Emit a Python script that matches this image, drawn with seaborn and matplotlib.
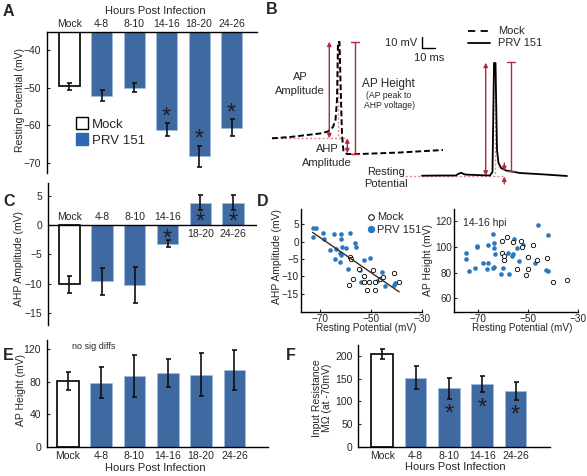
import numpy as np
import pandas as pd
import seaborn as sns
import matplotlib.pyplot as plt
from matplotlib.transforms import offset_copy

# ---- data ----
hpi = ["Mock", "4-8", "8-10", "14-16", "18-20", "24-26"]
rest_mean = [-49.7, -52.2, -50.0, -61.2, -68.3, -60.7]
rest_sem = [1.0, 1.5, 1.1, 1.8, 2.8, 2.3]
rest_sig = [False, False, False, True, True, True]

ahp_mean = [-10.1, -9.6, -10.2, -3.2, 3.8, 3.8]
ahp_sem = [1.45, 2.3, 3.1, 0.6, 1.3, 1.3]
ahp_sig = [False, False, False, True, True, True]

aph_mean = [80.5, 78.5, 86.7, 90.8, 88.4, 94.0]
aph_sem = [11.5, 19.0, 26.0, 17.0, 26.6, 25.0]

rin_hpi = ["Mock", "4-8", "8-10", "14-16", "24-26"]
rin_mean = [204, 152, 128.6, 137.4, 123.3]
rin_sem = [11, 25, 23, 18, 20]
rin_sig = [False, False, True, True, True]

# panel D, left: resting potential vs AHP amplitude
dl_mock_x = [-58.2, -58.1, -54.9, -57.0, -58.9, -53.0, -53.0, -49.4, -51.0, -48.6,
             -51.6, -48.6, -46.5, -45.3, -41.1, -38.9]
dl_mock_y = [-4.3, -5.1, -7.9, -10.8, -12.4, -9.8, -11.6, -8.2, -11.7, -11.6,
             -14.0, -14.0, -10.9, -10.1, -9.0, -11.6]
dl_prv_x = [-73.1, -71.6, -72.9, -69.2, -68.6, -64.7, -61.8, -61.7, -58.5, -66.1,
            -64.0, -61.4, -59.9, -62.3, -61.9, -64.1, -62.3, -56.4, -56.1, -53.0,
            -50.5, -59.2, -54.2, -53.9, -47.7, -45.8, -44.4, -41.1, -40.5]
dl_prv_y = [4.0, 4.0, 1.3, 2.5, 0.8, 2.2, 2.1, 0.7, 2.5, -2.5,
            -2.0, -1.6, -1.7, -3.2, -3.9, -5.0, -6.0, -0.3, -1.6, -5.4,
            -4.6, -8.0, -8.3, -11.7, -11.3, -8.8, -12.9, -12.5, -12.0]

# panel D, right: resting potential vs AP height (14-16 hpi)
dr_mock_x = [-60.7, -58.4, -56.0, -53.1, -52.7, -48.0, -60.7, -59.8, -59.6, -54.6,
             -50.2, -50.9, -50.0, -46.4, -42.7, -40.3, -34.7]
dr_mock_y = [104.7, 107.8, 103.7, 104.7, 99.5, 101.1, 94.8, 92.8, 89.7, 83.1,
             83.1, 78.2, 92.0, 89.7, 91.2, 72.6, 73.9]
dr_prv_x = [-75.1, -75.1, -73.6, -71.3, -70.7, -70.4, -68.3, -66.4, -66.0, -66.0,
            -64.3, -63.6, -64.3, -63.6, -63.6, -63.3, -61.1, -60.3, -58.0, -57.6,
            -56.6, -56.2, -55.7, -54.6, -53.9, -52.2, -47.5, -46.0, -42.3, -42.9, -42.3]
dr_prv_y = [95.4, 90.5, 81.4, 83.9, 100.8, 99.5, 87.6, 82.7, 87.1, 101.6,
            83.9, 84.4, 109.8, 103.1, 99.2, 94.3, 78.6, 83.7, 95.4, 79.0,
            92.8, 94.3, 106.0, 99.2, 89.1, 101.2, 87.6, 116.8, 109.1, 81.9, 81.4]

# panel B schematic traces (drawn in figure pixel units)
mock_tr_x = [272, 290, 307, 320, 328, 333, 335.5, 337, 338, 339.5, 341, 342, 343.5, 347, 360, 400, 443]
mock_tr_y = [138.3, 137, 135, 133.5, 131.5, 127, 120, 100, 42, 42, 100, 135, 151.5, 154, 154, 152.5, 150]
prv_tr_x = [422, 440, 456, 458, 461, 465, 475, 490, 492.5, 494, 495.5, 497, 498.5, 501, 506, 520, 545, 567]
prv_tr_y = [175.7, 175.5, 175.5, 174, 172.8, 174.5, 175, 175.5, 172, 63, 63, 150, 163, 168, 170.5, 173, 174.5, 176]

W, H = 587, 476
blue = "#2f67b1"
dot_blue = "#2b78bd"
red = "#b8273b"
pink = "#e0879a"
ink = "#111111"

sns.set_style("white")
plt.rcParams["font.family"] = ["Liberation Sans", "DejaVu Sans"]
plt.rcParams["font.size"] = 7.5

fig = plt.figure(figsize=(W / 100, H / 100), dpi=100)


def px_axes(x0, y0, x1, y1):
    return fig.add_axes([x0 / W, 1 - y1 / H, (x1 - x0) / W, (y1 - y0) / H])


def bars(ax, cats, means, sems):
    pal = {c: ("white" if c == "Mock" else blue) for c in cats}
    sns.barplot(x=cats, y=means, hue=cats, palette=pal, width=0.65, legend=False,
                errorbar=None, ax=ax)
    for p, c in zip(ax.patches, cats):
        if c == "Mock":
            p.set_edgecolor("black")
            p.set_linewidth(1.2)
        else:
            p.set_edgecolor("#9dbde3")
            p.set_linewidth(0.5)
    ax.errorbar(range(len(cats)), means, yerr=sems, fmt="none", ecolor=ink,
                elinewidth=1.2, capsize=1.8, capthick=1.2, zorder=5)
    ax.set_xlabel("")
    ax.tick_params(axis="y", direction="in", length=2, labelsize=7.5, pad=4, left=True)


def style(ax, keep):
    for s in ["left", "right", "top", "bottom"]:
        ax.spines[s].set_visible(s in keep)
        ax.spines[s].set_color("black")
        ax.spines[s].set_linewidth(1.0)


def star(ax, x, y):
    tr = offset_copy(ax.transData, fig=fig, y=-4.0, units="points")
    ax.text(x, y, "*", ha="center", va="center", fontsize=17, color="#1c1c28",
            zorder=6, transform=tr)


# ---- A ----
axA = px_axes(47, 32, 257, 173)
bars(axA, hpi, rest_mean, rest_sem)
axA.set_ylim(-72.8, -35.2)
axA.set_xlim(-0.68, 5.78)
style(axA, ["left", "top"])
axA.xaxis.tick_top()
axA.set_xticks(range(len(hpi)))
axA.set_xticklabels(hpi)
axA.tick_params(axis="x", length=0, pad=2.5, labelsize=7.5)
axA.set_yticks([-70, -60, -50, -40])
axA.xaxis.set_label_position("top")
axA.set_xlabel("Hours Post Infection", fontsize=8, va="center")
axA.xaxis.set_label_coords(0.515, (173 - 11) / 141)
axA.set_ylabel("Resting Potential (mV)", fontsize=7.5, va="center")
axA.yaxis.set_label_coords(-0.13, 0.52)
for i, (m, e, s) in enumerate(zip(rest_mean, rest_sem, rest_sig)):
    if s:
        star(axA, i, m + e + 3.0)
hA = [plt.Rectangle((0, 0), 1, 1, fc="white", ec="black", lw=1.0),
      plt.Rectangle((0, 0), 1, 1, fc=blue, ec=blue)]
fig.legend(hA, ["Mock", "PRV 151"], loc="center left",
           bbox_to_anchor=(69 / W, 1 - 132 / H), frameon=False, fontsize=9.5,
           handlelength=0.95, handleheight=0.95, handletextpad=0.3, labelspacing=0.2,
           borderpad=0)

# ---- C ----
axC = px_axes(47.7, 183, 257, 325)
bars(axC, hpi, ahp_mean, ahp_sem)
axC.set_ylim(-17.1, 7.2)
axC.set_xlim(-0.66, 5.73)
style(axC, ["left"])
axC.axhline(0, color="black", lw=1.0, zorder=4)
axC.set_xticks([])
axC.set_yticks([-15, -10, -5, 0, 5])
for i, (lbl, m) in enumerate(zip(hpi, ahp_mean)):
    if m < 0:
        axC.text(i, 0.45, lbl, ha="center", va="bottom", fontsize=7.5)
    else:
        axC.text(i, -0.7, lbl, ha="center", va="top", fontsize=7.5)
for i, (m, e, s) in enumerate(zip(ahp_mean, ahp_sem, ahp_sig)):
    if s:
        star(axC, i, m - np.sign(m) * (e + 1.1))
axC.set_ylabel("AHP Amplitude (mV)", fontsize=7.5, va="center")
axC.yaxis.set_label_coords(-0.135, 0.47)

# ---- E ----
axE = px_axes(46.7, 340, 268, 446.7)
bars(axE, hpi, aph_mean, aph_sem)
axE.set_ylim(0, 131)
axE.set_xlim(-0.63, 6.01)
style(axE, ["left", "bottom"])
axE.set_yticks([0, 40, 80, 120])
axE.tick_params(axis="x", length=0, pad=3, labelsize=7.5)
axE.set_xlabel("Hours Post Infection", fontsize=8, va="center")
axE.xaxis.set_label_coords(0.49, -0.2)
axE.set_ylabel("AP Height (mV)", fontsize=7.5, va="center")
axE.yaxis.set_label_coords(-0.118, 0.53)
axE.text(0.115, 0.935, "no sig diffs", transform=axE.transAxes, fontsize=6.5,
         ha="left", va="center")

# ---- F ----
axF = px_axes(358.3, 345, 550, 446.7)
bars(axF, rin_hpi, rin_mean, rin_sem)
axF.set_ylim(0, 224)
axF.set_xlim(-0.72, 5.03)
style(axF, ["left", "bottom"])
axF.set_yticks([0, 50, 100, 150, 200])
axF.tick_params(axis="x", length=0, pad=3, labelsize=7.5)
for i, (m, e, s) in enumerate(zip(rin_mean, rin_sem, rin_sig)):
    if s:
        star(axF, i, m - e - 22)
axF.set_xlabel("Hours Post Infection", fontsize=8, va="center")
axF.xaxis.set_label_coords(0.504, -0.2)
axF.set_ylabel("Input Resistance\nM\u03a9 (at -70mV)", fontsize=7.5, va="center",
               linespacing=1.0)
axF.yaxis.set_label_coords(-0.19, 0.48)

# ---- D left ----
axDL = px_axes(301, 209, 421.7, 311.7)
sns.regplot(x=dl_mock_x + dl_prv_x, y=dl_mock_y + dl_prv_y, scatter=False, ci=None,
            color="#3a2a22", line_kws={"lw": 1.0}, ax=axDL)
sns.scatterplot(x=dl_prv_x, y=dl_prv_y, color=dot_blue, s=11, linewidth=0, ax=axDL)
sns.scatterplot(x=dl_mock_x, y=dl_mock_y, facecolor="white", edgecolor="black",
                s=10, linewidth=0.6, ax=axDL)
axDL.set_xlim(-77.7, -30)
axDL.set_ylim(-20.2, 9.4)
style(axDL, ["left", "bottom"])
axDL.set_xticks([-70, -50, -30])
axDL.set_yticks([-15, -10, -5, 0, 5])
axDL.tick_params(direction="in", length=2, labelsize=7.2, pad=1.5, left=True, bottom=True)
axDL.set_xlabel("Resting Potential (mV)", fontsize=7.2, va="center")
axDL.xaxis.set_label_coords(0.54, -0.16)
axDL.set_ylabel("AHP Amplitude (mV)", fontsize=7.5, va="center")
axDL.yaxis.set_label_coords(-0.2, 0.535)
hD = [plt.Line2D([], [], marker="o", ls="", mfc="white", mec="black", ms=4, mew=0.7),
      plt.Line2D([], [], marker="o", ls="", mfc=dot_blue, mec=dot_blue, ms=4.3)]
axDL.legend(hD, ["Mock", "PRV 151"], loc="center left",
            bbox_to_anchor=((362 - 301) / 120.7, (311.7 - 223.5) / 102.7),
            frameon=False, fontsize=8, handlelength=0.6, handletextpad=0.25,
            labelspacing=0.2, borderpad=0)

# ---- D right ----
axDR = px_axes(454.3, 209, 578.3, 312.3)
sns.scatterplot(x=dr_prv_x, y=dr_prv_y, color=dot_blue, s=11, linewidth=0, ax=axDR)
sns.scatterplot(x=dr_mock_x, y=dr_mock_y, facecolor="white", edgecolor="black",
                s=10, linewidth=0.6, ax=axDR)
axDR.set_xlim(-79.6, -30)
axDR.set_ylim(49.2, 129.3)
style(axDR, ["left", "bottom"])
axDR.set_xticks([-70, -50, -30])
axDR.set_yticks([60, 80, 100, 120])
axDR.tick_params(direction="in", length=2, labelsize=7.2, pad=1.5, left=True, bottom=True)
axDR.set_xlabel("Resting Potential (mV)", fontsize=7.2, va="center")
axDR.xaxis.set_label_coords(0.55, -0.155)
axDR.set_ylabel("AP Height (mV)", fontsize=7.5, va="center")
axDR.yaxis.set_label_coords(-0.21, 0.51)
axDR.text(0.07, 0.86, "14-16 hpi", transform=axDR.transAxes, fontsize=7.5,
          ha="left", va="center")

# ---- B schematic ----
axB = px_axes(240, 0, 587, 200)
axB.axis("off")
axB.plot([272, 347], [138.3, 138.3], ls=(0, (1.5, 1.5)), color=pink, lw=1.0)
axB.plot([337.5, 337.5], [42, 138.3], ls=(0, (1.5, 1.5)), color=pink, lw=1.0)
axB.plot([401, 505], [175.7, 175.7], ls=(0, (1.5, 1.5)), color=pink, lw=1.0)
axB.plot([494.5, 494.5], [63, 175.7], ls=(0, (1.5, 1.5)), color=pink, lw=1.0)
sns.lineplot(x=mock_tr_x, y=mock_tr_y, sort=False, color="black", lw=1.4,
             ax=axB).lines[-1].set_dashes((3, 1.5))
sns.lineplot(x=prv_tr_x, y=prv_tr_y, sort=False, color="black", lw=1.3, ax=axB)
axB.set_xlim(240, 587)
axB.set_ylim(200, 0)


def arrow(x, y0, y1, style_="<|-|>"):
    axB.annotate("", xy=(x, y1), xytext=(x, y0),
                 arrowprops=dict(arrowstyle=style_, color=red, lw=1.0,
                                 mutation_scale=6, shrinkA=0, shrinkB=0))


def ibar(x, y0, y1):
    axB.plot([x, x], [y0, y1], color=red, lw=1.0)
    axB.plot([x - 4, x + 4], [y0, y0], color=red, lw=1.0)
    axB.plot([x - 4, x + 4], [y1, y1], color=red, lw=1.0)


arrow(329.3, 138.3, 41.7)
arrow(347.3, 153.3, 138.3)
ibar(355, 41.7, 154)
arrow(485.7, 175.7, 62.7)
ibar(511, 61.7, 171)
arrow(504.3, 163, 171, "-|>")
arrow(504.3, 184, 176.5, "-|>")

axB.plot([421.7, 421.7, 435], [37.3, 47.7, 47.7], color="black", lw=1.0)
axB.text(417, 43, "10 mV", ha="right", va="center", fontsize=8)
axB.text(429, 58, "10 ms", ha="center", va="center", fontsize=8)
axB.plot([467.7, 490], [31, 31], color="black", lw=1.3, dashes=(4, 3))
axB.plot([467.7, 490], [43.3, 43.3], color="black", lw=1.3)
axB.text(498, 31, "Mock", ha="left", va="center", fontsize=8)
axB.text(498, 43.3, "PRV 151", ha="left", va="center", fontsize=8)
axB.text(300, 77, "AP", ha="center", va="center", fontsize=8)
axB.text(300, 90.5, "Amplitude", ha="center", va="center", fontsize=8)
axB.text(388.5, 84, "AP Height", ha="center", va="center", fontsize=8.5)
axB.text(388.5, 96, "(AP peak to", ha="center", va="center", fontsize=6.2)
axB.text(389.5, 106, "AHP voltage)", ha="center", va="center", fontsize=6.2)
axB.text(327.3, 149.3, "AHP", ha="center", va="center", fontsize=8)
axB.text(327.3, 162.5, "Amplitude", ha="center", va="center", fontsize=8)
axB.text(385.7, 172.3, "Resting", ha="center", va="center", fontsize=8)
axB.text(385.7, 184, "Potential", ha="center", va="center", fontsize=8)

# ---- panel letters ----
for lbl, x, y in [("A", 3, 11), ("B", 266, 10), ("C", 3, 202), ("D", 257, 202),
                  ("E", 3, 355), ("F", 286, 355)]:
    fig.text(x / W, 1 - y / H, lbl, fontsize=11.5, fontweight="bold", ha="left",
             va="center")

fig.savefig("out.png", dpi=100)
